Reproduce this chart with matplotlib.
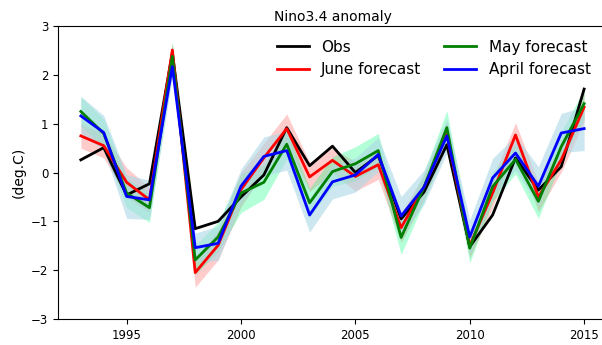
import matplotlib
matplotlib.use('Agg')
import matplotlib.pyplot as plt
import numpy as np

years = np.arange(1993, 2016)

obs = [0.26, 0.51, -0.46, -0.23, 2.45, -1.15, -1.0, -0.5, -0.05, 0.92, 0.14, 0.54, 0.0, 0.35,
       -0.95, -0.4, 0.57, -1.52, -0.87, 0.3, -0.36, 0.12, 1.71]
june = [0.75, 0.55, -0.2, -0.56, 2.51, -2.05, -1.49, -0.35, 0.3, 0.9, -0.09, 0.25, -0.08, 0.16,
        -1.13, -0.3, 0.78, -1.5, -0.42, 0.77, -0.5, 0.26, 1.34]
may = [1.25, 0.8, -0.42, -0.72, 2.38, -1.79, -1.32, -0.42, -0.2, 0.58, -0.62, 0.02, 0.18, 0.45,
       -1.33, -0.3, 0.92, -1.55, -0.29, 0.27, -0.59, 0.53, 1.41]
april = [1.16, 0.82, -0.49, -0.56, 2.17, -1.54, -1.45, -0.28, 0.33, 0.45, -0.87, -0.19, -0.05, 0.37,
         -0.89, -0.3, 0.75, -1.32, -0.11, 0.4, -0.28, 0.81, 0.9]

# half-widths of the shaded spread around each forecast
june_sp = [0.25, 0.25, 0.3, 0.25, 0.15, 0.3, 0.3, 0.35, 0.3, 0.3, 0.3, 0.25, 0.3, 0.3,
           0.3, 0.25, 0.25, 0.25, 0.3, 0.25, 0.3, 0.25, 0.3]
may_sp = [0.3, 0.3, 0.3, 0.3, 0.3, 0.3, 0.3, 0.4, 0.35, 0.3, 0.3, 0.3, 0.35, 0.35,
          0.35, 0.3, 0.35, 0.3, 0.3, 0.3, 0.35, 0.3, 0.3]
april_sp = [0.4, 0.35, 0.45, 0.4, 0.2, 0.3, 0.35, 0.35, 0.4, 0.4, 0.35, 0.35, 0.35, 0.35,
            0.4, 0.35, 0.35, 0.35, 0.4, 0.35, 0.4, 0.4, 0.45]

fig = plt.figure(figsize=(6.02, 3.45), dpi=100)
ax = fig.add_axes([0.0963, 0.0754, 0.912, 0.849])

def band(y, sp, c, a):
    y = np.array(y)
    sp = np.array(sp)
    ax.fill_between(years, y - sp, y + sp, color=c, alpha=a, linewidth=0)

band(june, june_sp, 'red', 0.2)
band(may, may_sp, 'springgreen', 0.3)
band(april, april_sp, 'lightblue', 0.6)

ax.plot(years, obs, color='black', lw=2, label='Obs')
ax.plot(years, june, color='red', lw=2, label='June forecast')
ax.plot(years, may, color='green', lw=2, label='May forecast')
ax.plot(years, april, color='blue', lw=2, label='April forecast')

ax.set_xlim(1992, 2016)
ax.set_ylim(-3, 3)
ax.set_xticks([1995, 2000, 2005, 2010, 2015])
ax.set_yticks([-3, -2, -1, 0, 1, 2, 3])
ax.spines['right'].set_visible(False)
ax.tick_params(labelsize=8.5)
ax.set_ylabel('(deg.C)', fontsize=10)
ax.set_title('Nino3.4 anomaly', fontsize=10, pad=4)
ax.legend(ncol=2, frameon=False, fontsize=11, loc='upper right',
          bbox_to_anchor=(0.995, 1.0), columnspacing=1.5, handlelength=2.1)

fig.savefig('out.png', dpi=100)
